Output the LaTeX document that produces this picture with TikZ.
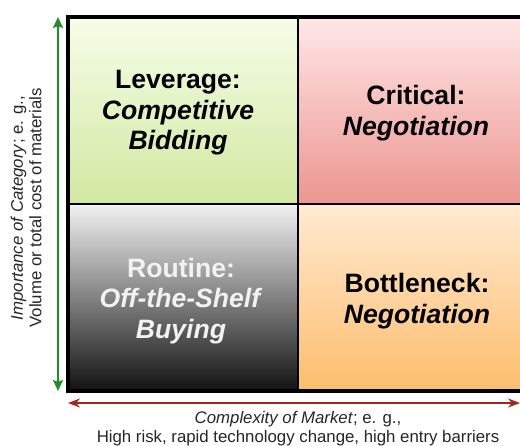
\documentclass[tikz,border=0pt]{standalone}
\usepackage{fontspec}
\setmainfont{Liberation Sans}
\usetikzlibrary{arrows.meta}

% cell gradients
\definecolor{levtop}{HTML}{F6FDE8}
\definecolor{levbot}{HTML}{D2E8A0}
\definecolor{crittop}{HTML}{FFE7E7}
\definecolor{critbot}{HTML}{EC958F}
\definecolor{routtop}{HTML}{F2F2F2}
\definecolor{routmid}{HTML}{ABABAB}
\definecolor{routbot}{HTML}{121212}
\definecolor{bottop}{HTML}{FFEAD2}
\definecolor{botbot}{HTML}{FDBD6C}
% axes
\definecolor{axisgreen}{HTML}{1F8E28}
\definecolor{axisred}{HTML}{A3261C}

\tikzset{
  quad/.style={align=center, font=\fontsize{26.6bp}{30.5bp}\selectfont\bfseries},
  axislabel/.style={align=center, font=\fontsize{16.8bp}{18.5bp}\selectfont, text=black!85},
  divider/.style={line width=2.5bp, black},
  frame/.style={line width=3.8bp, black},
  greenaxis/.style={line width=2.6bp, axisgreen,
    {Stealth[length=11bp,width=10bp,inset=2bp]}-{Stealth[length=11bp,width=10bp,inset=2bp]}},
  redaxis/.style={line width=2.4bp, axisred,
    {Stealth[length=12bp,width=9bp,inset=4bp]}-{Stealth[length=12bp,width=9bp,inset=4bp]}}
}

\begin{document}
\begin{tikzpicture}[x=1bp, y=-1bp]
\useasboundingbox (0,0) rectangle (520,446);

\begin{scope}
  \clip (0,0) rectangle (520,446);
  % quadrant fills
  \shade[top color=levtop, bottom color=levbot] (68,17) rectangle (298,204);
  \shade[top color=crittop, bottom color=critbot] (298,17) rectangle (545,204);
  \shade[top color=routtop, middle color=routmid, bottom color=routbot] (68,204) rectangle (298,391);
  \shade[top color=bottop, bottom color=botbot] (298,204) rectangle (545,391);
  % grid lines and frame
  \draw[divider] (298,17) -- (298,391);
  \draw[divider] (68,204) -- (545,204);
  \draw[frame] (68,17) rectangle (545,391);
\end{scope}

% quadrant labels
\node[quad] (lev) at (178,113) {Leverage:\\\textit{Competitive}\\\textit{Bidding}};
\node[quad] (crit) at (416,113) {Critical:\\\textit{Negotiation}};
\node[quad, text=white!95!black] (rout) at (181,301) {Routine:\\\textit{Off-the-Shelf}\\\textit{Buying}};
\node[quad] (bott) at (417,301) {Bottleneck:\\\textit{Negotiation}};

% vertical axis
\coordinate (ytop) at (58,17);
\coordinate (ybot) at (58,391);
\draw[greenaxis] (ybot) -- (ytop);
\node[axislabel, rotate=90] (ylab) at (26,208)
  {\textit{Importance of Category}; e. g.,\\Volume or total cost of materials};

% horizontal axis
\coordinate (xleft) at (68,403);
\coordinate (xright) at (520,403);
\draw[redaxis] (xleft) -- (xright);
\node[axislabel] (xlab) at (298,428.5)
  {\textit{Complexity of Market}; e. g.,\\High risk, rapid technology change, high entry barriers};
\end{tikzpicture}
\end{document}
